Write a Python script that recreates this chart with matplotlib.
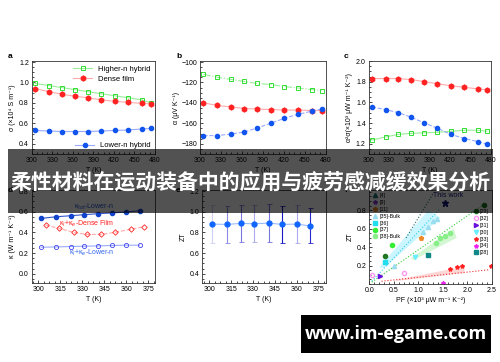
import numpy as np
import matplotlib
matplotlib.use('Agg')
import matplotlib.pyplot as plt
from matplotlib.patches import Rectangle, Polygon

plt.rcParams['font.family'] = ['Liberation Sans', 'DejaVu Sans']
plt.rcParams['font.size'] = 5
plt.rcParams['axes.linewidth'] = 0.6

# ---- data ----
T_top = [305, 325, 344, 363, 382, 401, 421, 441, 461, 474]
sigma_high = [0.99, 0.97, 0.95, 0.93, 0.91, 0.89, 0.87, 0.85, 0.83, 0.80]
sigma_dense = [0.94, 0.91, 0.885, 0.865, 0.85, 0.83, 0.815, 0.805, 0.795, 0.79]
sigma_low = [0.53, 0.525, 0.52, 0.52, 0.52, 0.525, 0.53, 0.535, 0.545, 0.55]

seebeck_high = [-112, -115, -117, -119, -121, -122, -124, -125.5, -127, -128]
seebeck_dense = [-140, -142.5, -144, -145.5, -146, -146.5, -147, -147, -147.5, -147.5]
seebeck_low = [-172, -172, -170.5, -168.5, -164.5, -160, -155, -151, -148, -146]

pf_dense = [1.83, 1.83, 1.83, 1.82, 1.80, 1.78, 1.76, 1.745, 1.73, 1.72]
pf_low = [1.555, 1.53, 1.50, 1.455, 1.40, 1.35, 1.29, 1.25, 1.22, 1.195]
pf_high = [1.235, 1.265, 1.29, 1.30, 1.305, 1.31, 1.32, 1.33, 1.33, 1.32]

T_kappa = [302, 312, 322, 331, 341, 350, 360, 369]
T_kdense = [305, 314, 324, 333, 343, 352, 363, 372]
kappa_tot_low = [0.535, 0.551, 0.561, 0.571, 0.581, 0.588, 0.597, 0.609]
kappa_le_dense = [0.47, 0.44, 0.40, 0.38, 0.38, 0.40, 0.43, 0.455]
kappa_le_low = [0.256, 0.259, 0.263, 0.266, 0.269, 0.273, 0.276, 0.276]

zt = [0.88, 0.877, 0.887, 0.883, 0.89, 0.877, 0.88, 0.863]
zt_err = [0.18, 0.18, 0.18, 0.18, 0.18, 0.18, 0.18, 0.17]

# literature comparison (panel f): label -> (PF, ZT)
lit_left = {
    '[4]': ([], []),
    '[9]': ([], []),
    '[11]': ([1.05], [0.50]),
    '[35]-Bulk': ([0.50, 1.10, 1.20, 1.30, 1.38], [0.19, 0.56, 0.62, 0.68, 0.71]),
    '[36]': ([0.31], [0.24]),
    '[37]': ([0.46], [0.42]),
    '[38]-Bulk': ([1.35, 1.45, 1.55, 1.65], [0.45, 0.50, 0.52, 0.55]),
}
lit_right = {
    '[29]': ([0.31, 2.33], [0.30, 0.86]),
    '[32]': ([0.06, 0.70], [0.095, 0.115]),
    '[31]': ([0.22], [0.085]),
    '[30]': ([0.93], [0.29]),
    '[33]': ([1.65, 1.78, 1.88, 2.48], [0.16, 0.18, 0.19, 0.19]),
    '[34]': ([1.51], [0.015]),
    '[28]': ([1.20], [0.32]),
}
this_work = ([1.55], [0.88])

band_cyan = [(0.2, 0.18), (1.2, 0.80), (1.45, 0.72), (0.3, 0.17)]
band_green = [(0.85, 0.28), (1.72, 0.60), (1.78, 0.50), (0.9, 0.26)]
band_red = [(0.5, 0.04), (1.94, 0.19), (1.94, 0.12), (0.6, 0.035)]
guide_cyan = ([0.05, 1.45], [0.03, 0.82])
guide_teal = ([0.75, 1.30], [0.50, 0.98])
guide_green = ([0.05, 2.35], [0.02, 0.87])
guide_red = ([0.25, 2.45], [0.03, 0.155])

# ---- styles ----
c_green, c_green_l = '#33dd33', '#99ee99'
c_red, c_red_l = '#ff2222', '#ffaaaa'
c_blue, c_blue_l = '#1155ee', '#99aaff'

lit_style = {
    '[4]': dict(marker='^', color='#1f7070'),
    '[9]': dict(marker='*', color='#8833cc'),
    '[11]': dict(marker='p', color='#ee8822'),
    '[35]-Bulk': dict(marker='^', color='#99ddee'),
    '[36]': dict(marker='s', color='#22ddee'),
    '[37]': dict(marker='o', color='#33ee33'),
    '[38]-Bulk': dict(marker='o', color='#88ee88'),
    '[29]': dict(marker='o', color='#227722'),
    '[32]': dict(marker='o', color='#ff99ee', mfc='none'),
    '[31]': dict(marker='>', color='#6611dd'),
    '[30]': dict(marker='v', color='#66eeff'),
    '[33]': dict(marker='*', color='#ff2222'),
    '[34]': dict(marker='*', color='#ee22ee'),
    '[28]': dict(marker='s', color='#118888'),
}

fig = plt.figure(figsize=(5, 3.62), dpi=100)

def px_axes(l, t, r, b):
    return fig.add_axes([l / 500, 1 - b / 362, (r - l) / 500, (b - t) / 362])

def style(ax):
    ax.minorticks_on()
    ax.tick_params(which='both', direction='in', top=False, right=False,
                   labelsize=5, pad=2, width=0.5)
    ax.tick_params(which='major', length=2.5)
    ax.tick_params(which='minor', length=1.3)
    for s in ax.spines.values():
        s.set_color('#333333')

# panel a
ax = px_axes(31.7, 61, 155, 154)
l1, = ax.plot(T_top, sigma_high, '-', color=c_green_l, lw=0.8, marker='s', ms=3,
              mfc='none', mec=c_green, mew=0.7, label='Higher-n hybrid')
l2, = ax.plot(T_top, sigma_dense, '-', color=c_red_l, lw=0.8, marker='h', ms=3.5,
              mfc=c_red, mec=c_red, label='Dense film')
l3, = ax.plot(T_top, sigma_low, '-', color=c_blue_l, lw=0.8, marker='o', ms=3,
              mfc=c_blue, mec=c_blue, label='Lower-n hybrid')
ax.set_xlim(300, 480)
ax.set_ylim(0.3, 1.21)
ax.set_xticks(np.arange(300, 481, 30))
ax.set_yticks([0.4, 0.6, 0.8, 1.0, 1.2])
ax.set_xlabel('T (K)', fontsize=5, labelpad=2)
ax.set_ylabel('σ (×10⁴ S m⁻¹)', fontsize=5, labelpad=2)
style(ax)
leg = ax.legend(handles=[l1, l2], loc='upper right', frameon=False, fontsize=5.5,
                handlelength=2.4, borderaxespad=0.2, labelspacing=0.3)
ax.add_artist(leg)
ax.legend(handles=[l3], loc='lower right', frameon=False, fontsize=5.5,
          handlelength=2.4, borderaxespad=0.2)

# panel b
ax = px_axes(200, 61, 325.7, 154)
ax.plot(T_top, seebeck_high, '-.', color=c_green_l, lw=0.8, marker='s', ms=3,
        mfc='none', mec=c_green, mew=0.7)
ax.plot(T_top, seebeck_dense, '-', color=c_red_l, lw=0.8, marker='h', ms=3.5,
        mfc=c_red, mec=c_red)
ax.plot(T_top, seebeck_low, '--', color=c_blue_l, lw=0.8, marker='o', ms=3,
        mfc=c_blue, mec=c_blue)
ax.set_xlim(300, 480)
ax.set_ylim(-190, -99)
ax.set_xticks(np.arange(300, 481, 30))
ax.set_yticks(np.arange(-180, -99, 20))
ax.set_xlabel('T (K)', fontsize=5, labelpad=2)
ax.set_ylabel('α (μV K⁻¹)', fontsize=5, labelpad=1)
style(ax)

# panel c
ax = px_axes(368.5, 61, 491, 154)
ax.plot(T_top, pf_high, '-', color=c_green_l, lw=0.8, marker='s', ms=3,
        mfc='none', mec=c_green, mew=0.7)
ax.plot(T_top, pf_dense, '-', color=c_red_l, lw=0.8, marker='h', ms=3.5,
        mfc=c_red, mec=c_red)
ax.plot(T_top, pf_low, '--', color=c_blue_l, lw=0.8, marker='o', ms=3,
        mfc=c_blue, mec=c_blue)
ax.set_xlim(300, 480)
ax.set_ylim(1.1, 2.0)
ax.set_xticks(np.arange(300, 481, 30))
ax.set_yticks([1.2, 1.4, 1.6, 1.8, 2.0])
ax.set_xlabel('T (K)', fontsize=5, labelpad=2)
ax.set_ylabel('α²σ(×10³ μW m⁻¹ K⁻²)', fontsize=5, labelpad=2)
style(ax)

# panel d
ax = px_axes(31.7, 190, 155, 283)
ax.plot(T_kappa, kappa_tot_low, '-', color='#3355cc', lw=0.8, marker='o', ms=3,
        mfc='#1144cc', mec='#1144cc')
ax.plot(T_kdense, kappa_le_dense, '--', color=c_red_l, lw=0.8, marker='D', ms=2.8,
        mfc='none', mec=c_red, mew=0.6)
ax.plot(T_kappa, kappa_le_low, '-', color=c_blue_l, lw=0.8, marker='o', ms=3,
        mfc='none', mec='#4444ee', mew=0.6)
ax.text(338, 0.65, 'κ$_{tot}$-Lower-n', color='#2255cc', fontsize=5, ha='center', va='center')
ax.text(333, 0.48, 'κ$_l$+κ$_e$-Dense Film', color=c_red, fontsize=5, ha='center', va='center')
ax.text(336, 0.2, 'κ$_l$+κ$_e$-Lower-n', color='#3366ee', fontsize=5, ha='center', va='center')
ax.set_xlim(295.5, 379.5)
ax.set_ylim(-0.09, 0.81)
ax.set_xticks(np.arange(300, 376, 15))
ax.set_yticks([0.0, 0.2, 0.4, 0.6, 0.8])
ax.set_xlabel('T (K)', fontsize=5, labelpad=2)
ax.set_ylabel('κ (W m⁻¹ K⁻¹)', fontsize=5, labelpad=2)
style(ax)

# panel e
ax = px_axes(202.3, 190, 325.7, 283)
bar_colors = ['#d0d0f4', '#8a8ae4', '#7777dd', '#aaaaee', '#7777dd', '#1a1ac4',
              '#aaaaee', '#2a2acc']
ax.plot(T_kappa, zt, '-', color='#99bbff', lw=0.8, zorder=3)
for t, z, e, c in zip(T_kappa, zt, zt_err, bar_colors):
    ax.errorbar([t], [z], yerr=[e], fmt='none', ecolor=c, elinewidth=0.8,
                capsize=1.8, capthick=0.6, zorder=2)
ax.plot(T_kappa, zt, 'o', color='#1166ff', ms=3.5, zorder=4)
ax.set_xlim(295.2, 380)
ax.set_ylim(0.31, 1.21)
ax.set_xticks(np.arange(300, 376, 15))
ax.set_yticks([0.4, 0.6, 0.8, 1.0, 1.2])
ax.set_xlabel('T (K)', fontsize=5, labelpad=2)
ax.set_ylabel('ZT', fontsize=5, labelpad=2)
style(ax)

# panel f
ax = px_axes(369.3, 190, 492, 284)
ax.add_patch(Polygon(band_cyan, closed=True, fc='#bff4ff', ec='none', alpha=0.8))
ax.add_patch(Polygon(band_green, closed=True, fc='#c8f5c8', ec='none', alpha=0.8))
ax.add_patch(Polygon(band_red, closed=True, fc='#ffcccc', ec='none', alpha=0.8))
ax.plot(*guide_cyan, ':', color='#33ccee', lw=0.8)
ax.plot(*guide_teal, ':', color='#1f7070', lw=0.8)
ax.plot(*guide_green, ':', color='#33cc33', lw=0.8)
ax.plot(*guide_red, ':', color='#ee3333', lw=0.8)
hl, hr = [], []
for grp, store in ((lit_left, hl), (lit_right, hr)):
    for lab, (x, y) in grp.items():
        st = dict(lit_style[lab])
        col = st.pop('color')
        h, = ax.plot(x, y, ls='none', ms=3, mec=col, color=col, label=lab, **st)
        store.append(h)
ax.plot(*this_work, '*', color='#111177', ms=5)
ax.text(1.6, 0.945, 'This work', color='#111177', fontsize=5, ha='center')
ax.set_xlim(0, 2.5)
ax.set_ylim(0, 1.02)
ax.set_xticks([0.0, 0.5, 1.0, 1.5, 2.0, 2.5])
ax.set_yticks([0.2, 0.4, 0.6, 0.8])
ax.set_xlabel('PF (×10³ μW m⁻¹ K⁻²)', fontsize=5, labelpad=2)
ax.set_ylabel('ZT', fontsize=5, labelpad=2)
style(ax)
lg = ax.legend(handles=hl, loc='upper left', frameon=False, fontsize=3.8,
               handlelength=1, handletextpad=0.3, labelspacing=0.35, borderaxespad=0.2)
ax.add_artist(lg)
ax.legend(handles=hr, loc='center right', bbox_to_anchor=(1.0, 0.55), frameon=False,
          fontsize=3.8, handlelength=1, handletextpad=0.3, labelspacing=0.35,
          borderaxespad=0.2)

# panel letters
for lab, x, y in (('a', 10, 57), ('b', 179, 57), ('c', 346, 57), ('d', 10, 190),
                  ('e', 178, 190), ('f', 346, 190)):
    fig.text(x / 500, 1 - y / 362, lab, fontsize=6, fontweight='bold', ha='center', va='center')

# overlay banners
fig.patches.append(Rectangle((8 / 500, 1 - 213 / 362), 485 / 500, 64 / 362,
                             transform=fig.transFigure, fc='black', alpha=0.68,
                             ec='none', zorder=10))
fig.text(250 / 500, 1 - 182 / 362, '柔性材料在运动装备中的应用与疲劳感减缓效果分析',
         family=['Noto Sans CJK SC', 'DejaVu Sans'], fontsize=15, fontweight='bold',
         color='white', ha='center', va='center', zorder=11)
fig.patches.append(Rectangle((301 / 500, 1 - 353 / 362), 190 / 500, 38 / 362,
                             transform=fig.transFigure, fc='black', ec='none', zorder=10))
fig.text(396 / 500, 1 - 334 / 362, 'www.im-egame.com', family=['Open Sans', 'DejaVu Sans'],
         fontsize=13, fontweight='bold', color='white', ha='center', va='center', zorder=11)

fig.savefig('out.png', dpi=100)
